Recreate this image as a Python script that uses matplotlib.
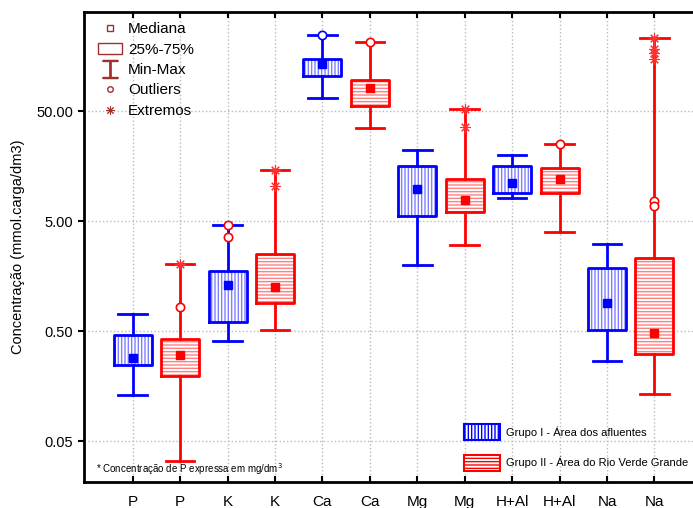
import matplotlib.pyplot as plt
import numpy as np
from matplotlib.lines import Line2D
from matplotlib.patches import Patch

plt.rcParams['font.family'] = ['Liberation Sans', 'DejaVu Sans']

labels = ['P', 'P', 'K', 'K', 'Ca', 'Ca', 'Mg', 'Mg', 'H+Al', 'H+Al', 'Na', 'Na']
groups = [0, 1] * 6
# min, q1, median, q3, max (max = highest point incl. extremes)
mins = [0.131, 0.033, 0.406, 0.511, 65.6, 35.2, 1.99, 3.03, 8.04, 3.97, 0.265, 0.133]
q1s = [0.245, 0.195, 0.604, 0.90, 104, 55.2, 5.55, 6.0, 9.04, 9.04, 0.510, 0.309]
medians = [0.284, 0.303, 1.31, 1.256, 133.6, 80.4, 9.9, 7.71, 11.1, 12.1, 0.903, 0.483]
q3s = [0.46, 0.423, 1.75, 2.51, 148.5, 95.7, 16.0, 12.05, 16.0, 15.1, 1.86, 2.32]
maxs = [0.714, 2.03, 4.60, 14.55, 245, 214, 22.1, 52.2, 20.0, 25.3, 3.07, 232]

# outliers (circles) and extremes (asterisks): (position, value, color)
outliers = [(1, 0.826, 'red'), (2, 4.60, 'red'), (2, 3.58, 'red'),
            (4, 245, 'blue'), (5, 214, 'red'), (9, 25.3, 'red'),
            (11, 7.6, 'red'), (11, 6.89, 'red')]
extremes = [(1, 2.03), (3, 14.55), (3, 10.4), (7, 52.2), (7, 35.6),
            (11, 232), (11, 185), (11, 168), (11, 149)]

colors = ['blue', 'red']
light = ['#8080ff', '#ff8080']
hatches = ['|||||', '-----']

fig = plt.figure(figsize=(6.93, 5.08), dpi=100)
ax = fig.add_axes([0.121, 0.051, 0.9, 0.925])
ax.set_yscale('log')

for g in (0, 1):
    idx = [i for i in range(12) if groups[i] == g]
    stats = [dict(whislo=mins[i], q1=q1s[i], med=medians[i], q3=q3s[i],
                  whishi=maxs[i], mean=medians[i], fliers=[]) for i in idx]
    c = colors[g]
    # hatched fill
    ax.bxp(stats, positions=idx, widths=0.8, patch_artist=True,
           showcaps=False, showmeans=False,
           boxprops=dict(facecolor='white', edgecolor=light[g], hatch=hatches[g], linewidth=0),
           whiskerprops=dict(linewidth=0), medianprops=dict(linewidth=0))
    # outlines, whiskers, caps, median squares
    ax.bxp(stats, positions=idx, widths=0.8, showmeans=True,
           boxprops=dict(color=c, linewidth=2),
           whiskerprops=dict(color=c, linewidth=2),
           capprops=dict(color=c, linewidth=2), capwidths=0.6,
           medianprops=dict(linewidth=0),
           meanprops=dict(marker='s', markerfacecolor=c, markeredgecolor=c, markersize=6))

for p, v, c in outliers:
    ax.plot(p, v, 'o', markersize=6, markerfacecolor='white', markeredgecolor=c,
            markeredgewidth=1.2, zorder=5)
for p, v in extremes:
    ax.plot(p, v, marker=(8, 2, 0), markersize=7.5, color='#ff3030', markeredgewidth=0.8,
            linestyle='none', zorder=5)

ax.set_xlim(-1.03, 12.12)
ax.set_ylim(0.0212, 397)
ax.set_xticks(range(12))
ax.set_xticklabels(labels, fontsize=11)
ax.set_yticks([0.05, 0.5, 5, 50])
ax.set_yticklabels(['0.05', '0.50', '5.00', '50.00'], fontsize=10.5)
ax.yaxis.set_minor_locator(plt.NullLocator())
ax.tick_params(axis='x', direction='in', top=True, length=4, width=1.5, pad=9)
ax.tick_params(axis='y', direction='out', length=4, width=1.5)
ax.grid(True, linestyle=':', color='#bbbbbb', linewidth=1)
ax.set_axisbelow(True)
for s in ax.spines.values():
    s.set_linewidth(2)
ax.set_ylabel('Concentração (mmol.carga/dm3)', fontsize=10.5, labelpad=8)

# symbol legend (top left)
lc = '#a03030'
sym = [Line2D([], [], marker='s', linestyle='none', markerfacecolor='white', markeredgecolor=lc, markersize=5),
       Patch(facecolor='white', edgecolor=lc),
       Line2D([], [], marker='$\u2336$', linestyle='none', color=lc, markersize=13),
       Line2D([], [], marker='o', linestyle='none', markerfacecolor='white', markeredgecolor=lc, markersize=4),
       Line2D([], [], marker=(8, 2, 0), linestyle='none', color=lc, markersize=6, markeredgewidth=0.7)]
leg1 = ax.legend(sym, ['Mediana', '25%-75%', 'Min-Max', 'Outliers', 'Extremos'],
                 loc='upper left', bbox_to_anchor=(0.0, 1.008), frameon=False,
                 fontsize=11, handlelength=1.6, labelspacing=0.42, handletextpad=0.4)
ax.add_artist(leg1)

grp = [Patch(facecolor='white', edgecolor='blue', hatch='|||||', linewidth=1.5),
       Patch(facecolor='white', edgecolor='red', hatch='-----', linewidth=1.5)]
ax.legend(grp, ['Grupo I - Área dos afluentes', 'Grupo II - Área do Rio Verde Grande'],
          loc='lower left', bbox_to_anchor=(0.594, 0.002), frameon=False, fontsize=8,
          handlelength=3.2, handleheight=1.9, labelspacing=1.3, handletextpad=0.55)

ax.text(0.02, 0.01, '* Concentração de P expressa em mg/dm$^3$', transform=ax.transAxes,
        fontsize=7, va='bottom', ha='left')

fig.savefig('out.png', dpi=100)
